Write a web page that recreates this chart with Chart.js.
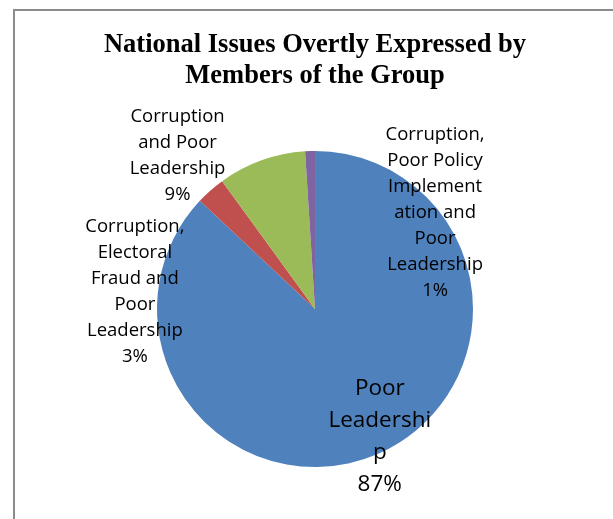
<!DOCTYPE html>
<html>
<head>
<meta charset="utf-8">
<script src="https://cdn.jsdelivr.net/npm/chart.js@4"></script>
<style>
    html, body { margin: 0; padding: 0; background: #fff; }
    #frame {
        position: absolute; left: 13px; top: 9px; width: 620px; height: 530px;
        border-left: 2px solid #8c8c8c; border-top: 2px solid #8c8c8c;
    }
    #wrap { position: absolute; left: 0; top: 0; width: 613px; height: 519px; }
</style>
</head>
<body>
<div id="frame"></div>
<div id="wrap"><canvas id="issuesChart" width="613" height="519"></canvas></div>
<script>
// Data
const categories = [
    'Poor Leadership',
    'Corruption, Electoral Fraud and Poor Leadership',
    'Corruption and Poor Leadership',
    'Corruption, Poor Policy Implementation and Poor Leadership'
];
const percentages = [87, 3, 9, 1];
// how the labels are wrapped in the picture
const labelLines = [
    ['Poor', 'Leadershi', 'p'],
    ['Corruption,', 'Electoral', 'Fraud and', 'Poor', 'Leadership'],
    ['Corruption', 'and Poor', 'Leadership'],
    ['Corruption,', 'Poor Policy', 'Implement', 'ation and', 'Poor', 'Leadership']
];

const sliceColors = ['#4f81bd', '#c0504d', '#9bbb59', '#8064a2'];

// label centre, in pie radius units from the pie centre
const labelSpots = [[0.41, 0.81], [-1.14, -0.11], [-0.87, -0.97], [0.76, -0.61]];
const labelSizes = [22.5, 18.5, 18.5, 18.5];
const labelGaps = [32, 26, 26, 26];

const sliceLabels = {
    id: 'sliceLabels',
    afterDatasetsDraw(chart) {
        const ctx = chart.ctx;
        const meta = chart.getDatasetMeta(0);
        ctx.save();
        ctx.fillStyle = '#000';
        ctx.textAlign = 'center';
        ctx.textBaseline = 'middle';
        meta.data.forEach((arc, i) => {
            const r = arc.outerRadius;
            const cx = arc.x + labelSpots[i][0] * r;
            const cy = arc.y + labelSpots[i][1] * r;
            const lines = labelLines[i].concat([percentages[i] + '%']);
            const gap = labelGaps[i];
            const top = cy - (lines.length - 1) * gap / 2;
            ctx.font = labelSizes[i] + "px 'Open Sans', sans-serif";
            lines.forEach((t, k) => ctx.fillText(t, cx, top + k * gap));
        });
        ctx.restore();
    }
};

new Chart(document.getElementById('issuesChart'), {
    type: 'pie',
    data: {
        labels: categories,
        datasets: [{
            data: percentages,
            backgroundColor: sliceColors,
            borderWidth: 0
        }]
    },
    options: {
        responsive: false,
        animation: false,
        devicePixelRatio: 1,
        layout: { padding: { top: 20, bottom: 52, left: 40, right: 23 } },
        plugins: {
            legend: { display: false },
            tooltip: { enabled: false },
            title: {
                display: true,
                text: ['National Issues Overtly Expressed by', 'Members of the Group'],
                color: '#000',
                font: { family: "'Liberation Serif', 'Times New Roman', serif", size: 26.5, weight: 'bold', lineHeight: 1.17 },
                padding: { top: 10, bottom: 59 }
            }
        }
    },
    plugins: [sliceLabels]
});
</script>
</body>
</html>
